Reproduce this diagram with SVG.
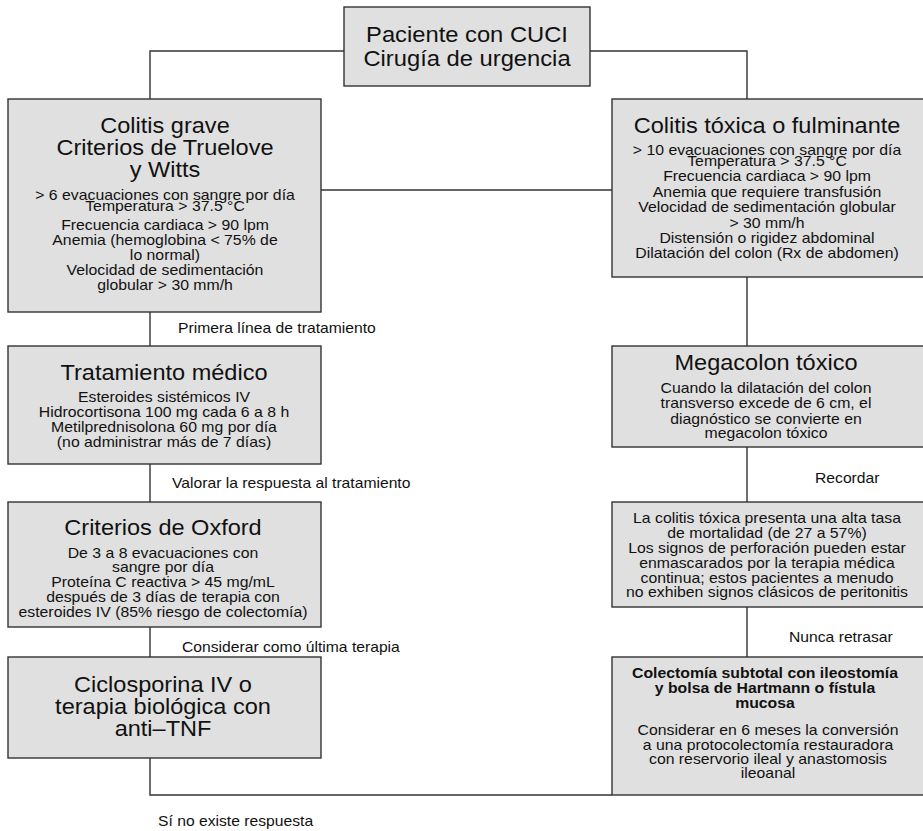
<svg xmlns="http://www.w3.org/2000/svg" width="923" height="831" viewBox="0 0 923 831">
  <style>
    .box { fill: #e0e0e0; stroke: #333; stroke-width: 1.4; }
    .wire { fill: none; stroke: #333; stroke-width: 1.4; }
    text { font-family: "Liberation Sans", Arial, sans-serif; fill: #111; text-anchor: middle; }
    .h1 { font-size: 22px; }
    .b { font-size: 14px; }
    .bb { font-size: 14px; font-weight: bold; }
    .lbl { font-size: 14px; text-anchor: start; }
  </style>
  <rect width="923" height="831" fill="#ffffff"/>

  <!-- connectors and their captions (captions drawn slightly widened) -->
  <g id="connectors">
    <path class="wire" d="M344,51 H150 V99"/>
    <path class="wire" d="M590,51 H747 V99"/>
    <path class="wire" d="M321,190 H612"/>
    <path class="wire" d="M150,312 V346"/>
    <path class="wire" d="M150,464 V502"/>
    <path class="wire" d="M150,627 V657"/>
    <path class="wire" d="M150,758 V795 H612"/>
    <path class="wire" d="M747,277 V346"/>
    <path class="wire" d="M747,447 V502"/>
    <path class="wire" d="M747,607 V657"/>
    <g transform="translate(178,0) scale(1.12,1)"><text class="lbl" x="0" y="333">Primera línea de tratamiento</text></g>
    <g transform="translate(172,0) scale(1.12,1)"><text class="lbl" x="0" y="488">Valorar la respuesta al tratamiento</text></g>
    <g transform="translate(182,0) scale(1.12,1)"><text class="lbl" x="0" y="652">Considerar como última terapia</text></g>
    <g transform="translate(158,0) scale(1.12,1)"><text class="lbl" x="0" y="826">Sí no existe respuesta</text></g>
    <g transform="translate(815,0) scale(1.12,1)"><text class="lbl" x="0" y="483">Recordar</text></g>
    <g transform="translate(789,0) scale(1.12,1)"><text class="lbl" x="0" y="642">Nunca retrasar</text></g>
  </g>

  <!-- root -->
  <g id="paciente">
    <rect class="box" x="344" y="7" width="246" height="79"/>
    <g transform="translate(467,0) scale(1.08,1)">
      <text class="h1" x="0" y="42">Paciente con CUCI</text>
      <text class="h1" x="0" y="66">Cirugía de urgencia</text>
    </g>
  </g>

  <!-- left column -->
  <g id="colitis-grave">
    <rect class="box" x="8" y="99" width="313" height="213"/>
    <g transform="translate(165,0) scale(1.07,1)">
      <text class="h1" x="0" y="133">Colitis grave</text>
      <text class="h1" x="0" y="155">Criterios de Truelove</text>
      <text class="h1" x="0" y="177">y Witts</text>
    </g>
    <g transform="translate(165,0) scale(1.13,1)">
      <text class="b" x="0" y="200">&gt; 6 evacuaciones con sangre por día</text>
      <text class="b" x="0" y="211.5">Temperatura &gt; 37.5 °C</text>
      <text class="b" x="0" y="230">Frecuencia cardiaca &gt; 90 lpm</text>
      <text class="b" x="0" y="245.5">Anemia (hemoglobina &lt; 75% de</text>
      <text class="b" x="0" y="260.5">lo normal)</text>
      <text class="b" x="0" y="275.5">Velocidad de sedimentación</text>
      <text class="b" x="0" y="290.5">globular &gt; 30 mm/h</text>
    </g>
  </g>

  <g id="tratamiento-medico">
    <rect class="box" x="8" y="346" width="313" height="118"/>
    <g transform="translate(164,0) scale(1.07,1)">
      <text class="h1" x="0" y="380">Tratamiento médico</text>
    </g>
    <g transform="translate(164,0) scale(1.13,1)">
      <text class="b" x="0" y="402.5">Esteroides sistémicos IV</text>
      <text class="b" x="0" y="417">Hidrocortisona 100 mg cada 6 a 8 h</text>
      <text class="b" x="0" y="432">Metilprednisolona 60 mg por día</text>
      <text class="b" x="0" y="447">(no administrar más de 7 días)</text>
    </g>
  </g>

  <g id="criterios-oxford">
    <rect class="box" x="8" y="502" width="313" height="125"/>
    <g transform="translate(163,0) scale(1.07,1)">
      <text class="h1" x="0" y="535">Criterios de Oxford</text>
    </g>
    <g transform="translate(163,0) scale(1.13,1)">
      <text class="b" x="0" y="558">De 3 a 8 evacuaciones con</text>
      <text class="b" x="0" y="572">sangre por día</text>
      <text class="b" x="0" y="587">Proteína C reactiva &gt; 45 mg/mL</text>
      <text class="b" x="0" y="602">después de 3 días de terapia con</text>
      <text class="b" x="0" y="617.5">esteroides IV (85% riesgo de colectomía)</text>
    </g>
  </g>

  <g id="ciclosporina">
    <rect class="box" x="8" y="657" width="313" height="101"/>
    <g transform="translate(163,0) scale(1.07,1)">
      <text class="h1" x="0" y="692.5">Ciclosporina IV o</text>
      <text class="h1" x="0" y="714.5">terapia biológica con</text>
      <text class="h1" x="0" y="736.5">anti–TNF</text>
    </g>
  </g>

  <!-- right column -->
  <g id="colitis-toxica">
    <rect class="box" x="612" y="99" width="314" height="178"/>
    <g transform="translate(767,0) scale(1.07,1)">
      <text class="h1" x="0" y="133">Colitis tóxica o fulminante</text>
    </g>
    <g transform="translate(767,0) scale(1.13,1)">
      <text class="b" x="0" y="155">&gt; 10 evacuaciones con sangre por día</text>
      <text class="b" x="0" y="166">Temperatura &gt; 37.5 °C</text>
      <text class="b" x="0" y="181.5">Frecuencia cardiaca &gt; 90 lpm</text>
      <text class="b" x="0" y="197">Anemia que requiere transfusión</text>
      <text class="b" x="0" y="212.5">Velocidad de sedimentación globular</text>
      <text class="b" x="0" y="228">&gt; 30 mm/h</text>
      <text class="b" x="0" y="243">Distensión o rigidez abdominal</text>
      <text class="b" x="0" y="258">Dilatación del colon (Rx de abdomen)</text>
    </g>
  </g>

  <g id="megacolon">
    <rect class="box" x="612" y="346" width="314" height="101"/>
    <g transform="translate(766,0) scale(1.07,1)">
      <text class="h1" x="0" y="370">Megacolon tóxico</text>
    </g>
    <g transform="translate(766,0) scale(1.13,1)">
      <text class="b" x="0" y="393">Cuando la dilatación del colon</text>
      <text class="b" x="0" y="408">transverso excede de 6 cm, el</text>
      <text class="b" x="0" y="424">diagnóstico se convierte en</text>
      <text class="b" x="0" y="438.5">megacolon tóxico</text>
    </g>
  </g>

  <g id="recordar">
    <rect class="box" x="612" y="502" width="314" height="105"/>
    <g transform="translate(767,0) scale(1.13,1)">
      <text class="b" x="0" y="523">La colitis tóxica presenta una alta tasa</text>
      <text class="b" x="0" y="538">de mortalidad (de 27 a 57%)</text>
      <text class="b" x="0" y="553">Los signos de perforación pueden estar</text>
      <text class="b" x="0" y="568">enmascarados por la terapia médica</text>
      <text class="b" x="0" y="583">continua; estos pacientes a menudo</text>
      <text class="b" x="0" y="597.5">no exhiben signos clásicos de peritonitis</text>
    </g>
  </g>

  <g id="colectomia">
    <rect class="box" x="612" y="657" width="314" height="138"/>
    <g transform="translate(765,0) scale(1.13,1)">
      <text class="bb" x="0" y="678">Colectomía subtotal con ileostomía</text>
      <text class="bb" x="0" y="693">y bolsa de Hartmann o fístula</text>
      <text class="bb" x="0" y="708">mucosa</text>
    </g>
    <g transform="translate(768,0) scale(1.13,1)">
      <text class="b" x="0" y="735">Considerar en 6 meses la conversión</text>
      <text class="b" x="0" y="750">a una protocolectomía restauradora</text>
      <text class="b" x="0" y="764">con reservorio ileal y anastomosis</text>
      <text class="b" x="0" y="778.5">ileoanal</text>
    </g>
  </g>
</svg>
